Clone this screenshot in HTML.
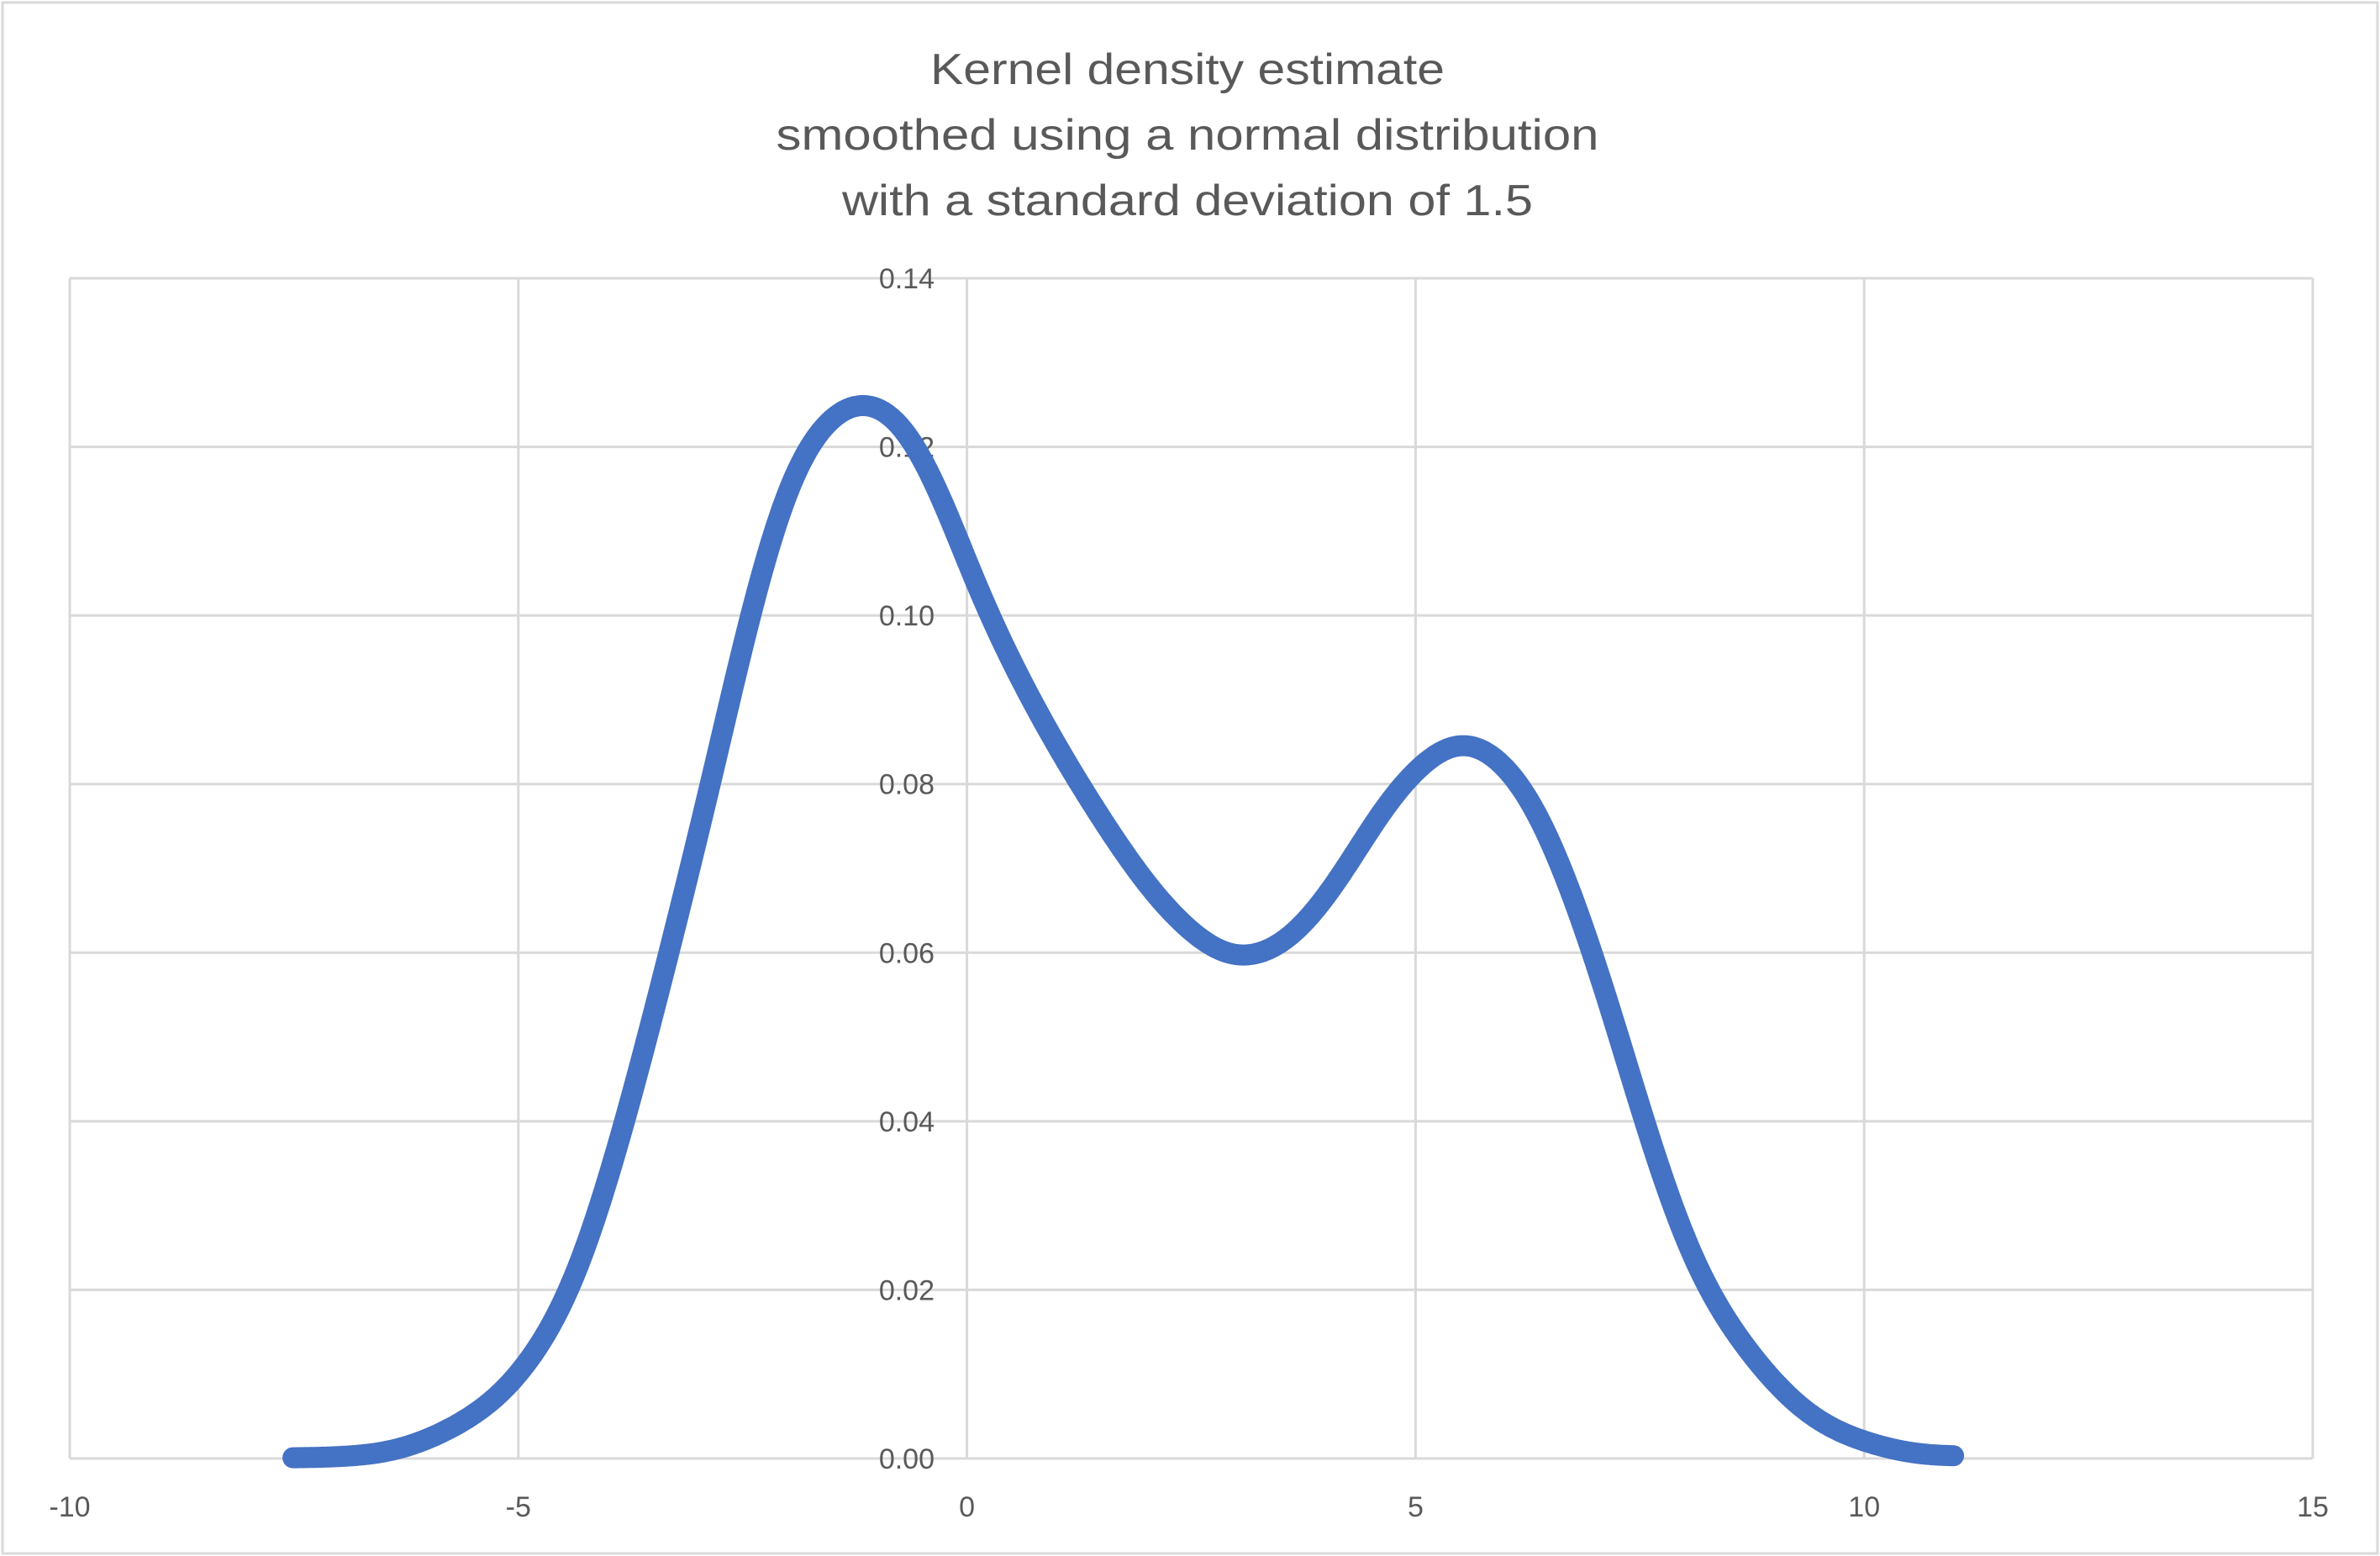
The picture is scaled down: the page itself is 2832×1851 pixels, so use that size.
<!DOCTYPE html>
<html><head><meta charset="utf-8"><style>
html,body{margin:0;padding:0;background:#fff}
svg{display:block}
text{font-family:"Liberation Sans",sans-serif;fill:#595959}
</style></head><body>
<svg id="s" width="2832" height="1851" viewBox="0 0 2832 1851" xmlns="http://www.w3.org/2000/svg">
<rect x="3" y="3" width="2826" height="1845" fill="#fff" stroke="#d9d9d9" stroke-width="3"/>
<text x="1413" y="100" font-size="52" text-anchor="middle" textLength="612" lengthAdjust="spacingAndGlyphs">Kernel density estimate</text>
<text x="1413" y="178" font-size="52" text-anchor="middle" textLength="979" lengthAdjust="spacingAndGlyphs">smoothed using a normal distribution</text>
<text x="1413" y="256" font-size="52" text-anchor="middle" textLength="822" lengthAdjust="spacingAndGlyphs">with a standard deviation of 1.5</text>
<g id="grid" stroke="#d9d9d9" stroke-width="3"></g>
<g id="labels" font-size="34"></g>
<path id="curve" fill="none" stroke="#4472C4" stroke-width="25" stroke-linecap="round" stroke-linejoin="round"/>
</svg>
<script>
var L=83,R=2752,T=331,B=1735;
function X(x){return L+(x+10)*(R-L)/25;}
function Y(y){return B-y*(B-T)/0.14;}
var g=document.getElementById('grid'),lb=document.getElementById('labels'),ns='http://www.w3.org/2000/svg';
function el(p,t,a,txt){var e=document.createElementNS(ns,t);for(var k in a)e.setAttribute(k,a[k]);if(txt)e.textContent=txt;p.appendChild(e);return e;}
for(var i=0;i<=7;i++){var y=Y(i*0.02);el(g,'line',{x1:L,x2:R,y1:y,y2:y});
 el(lb,'text',{x:1112,y:y+12,'text-anchor':'end'},(i*0.02).toFixed(2));}
for(var v=-10;v<=15;v+=5){var x=X(v);el(g,'line',{x1:x,x2:x,y1:T,y2:B});
 el(lb,'text',{x:x,y:1804,'text-anchor':'middle'},String(v));}
var P=[[193,960],[260,955],[315,930],[350,895],[380,840],[410,745],[440,630],[468,517],[495,400],[520,315],[545,275],[570,263],[595,278],[620,325],[645,390],[680,462],[720,530],[760,588],[795,622],[820,631],[850,618],[880,582],[920,520],[962,487],[1000,512],[1030,572],[1060,660],[1090,760],[1120,840],[1160,900],[1200,937],[1250,955],[1288,959]];
var k=1.806;P=P.map(function(p){return [p[0]*k,p[1]*k+1];});
var S=[];
for(var i=0;i<P.length-1;i++){var p0=P[Math.max(0,i-1)],p1=P[i],p2=P[i+1],p3=P[Math.min(P.length-1,i+2)];
 for(var t=0;t<1;t+=0.02){var t2=t*t,t3=t2*t;
  var f=function(a,b,c,d){return 0.5*((2*b)+(-a+c)*t+(2*a-5*b+4*c-d)*t2+(-a+3*b-3*c+d)*t3);};
  S.push([f(p0[0],p1[0],p2[0],p3[0]),f(p0[1],p1[1],p2[1],p3[1])]);}}
S.push(P[P.length-1]);
var x0=S[0][0],x1=S[S.length-1][0],U=[],j=0;
for(var x=x0;x<=x1;x+=2){while(j<S.length-2&&S[j+1][0]<x)j++;var a=S[j],b=S[j+1];var u=(b[0]-a[0])?(x-a[0])/(b[0]-a[0]):0;U.push([x,a[1]+(b[1]-a[1])*u]);}
var sg=12,W=36,V=[];
for(var i=0;i<U.length;i++){var s=0,w=0;for(var d=-W;d<=W;d++){var q=i+d;if(q<0||q>=U.length)continue;var ww=Math.exp(-d*d/(2*sg*sg));s+=U[q][1]*ww;w+=ww;}V.push([U[i][0],s/w]);}
var dd='';V.forEach(function(p,i){dd+=(i?'L':'M')+p[0].toFixed(1)+','+p[1].toFixed(1);});
document.getElementById('curve').setAttribute('d',dd);
</script>
</body></html>
